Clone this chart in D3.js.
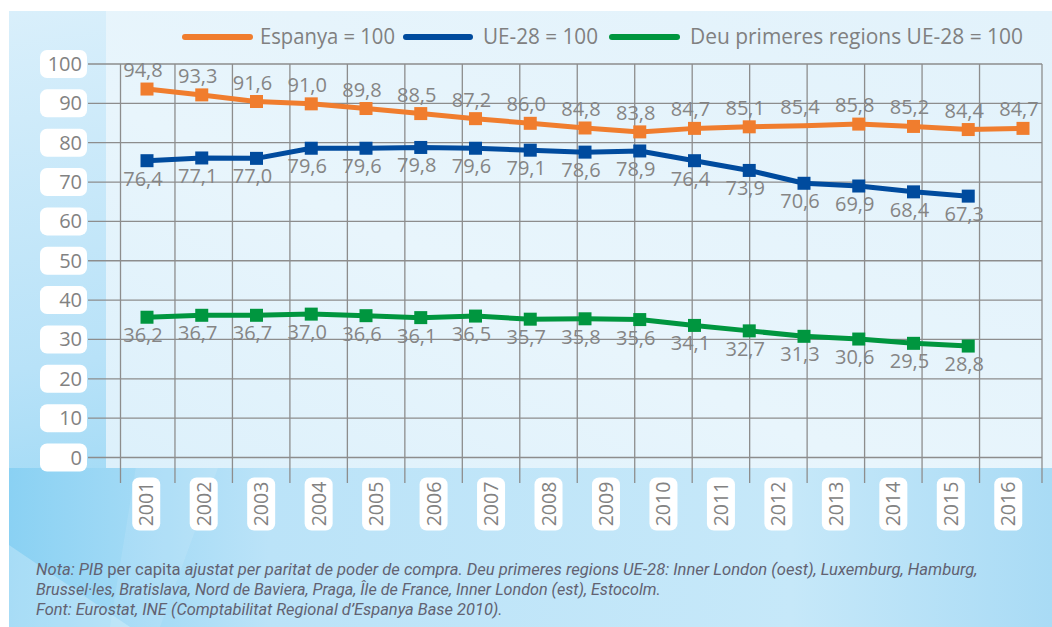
<!DOCTYPE html>
<html>
<head>
<meta charset="utf-8">
<script src="https://cdn.jsdelivr.net/npm/d3@7"></script>
<style>
  html, body { margin: 0; padding: 0; background: #fff; }
  svg { display: block; font-family: "Open Sans", sans-serif; }
</style>
</head>
<body>
<svg id="chart"></svg>
<script>
const width = 1052;
const height = 627;

// data
const years = ["2001", "2002", "2003", "2004", "2005", "2006", "2007", "2008",
  "2009", "2010", "2011", "2012", "2013", "2014", "2015", "2016"];
const yTicks = [0, 10, 20, 30, 40, 50, 60, 70, 80, 90, 100];
const espanya = [94.8, 93.3, 91.6, 91.0, 89.8, 88.5, 87.2, 86.0, 84.8, 83.8,
  84.7, 85.1, 85.4, 85.8, 85.2, 84.4, 84.7];
const ue28 = [76.4, 77.1, 77.0, 79.6, 79.6, 79.8, 79.6, 79.1, 78.6, 78.9,
  76.4, 73.9, 70.6, 69.9, 68.4, 67.3];
const deuRegions = [36.2, 36.7, 36.7, 37.0, 36.6, 36.1, 36.5, 35.7, 35.8, 35.6,
  34.1, 32.7, 31.3, 30.6, 29.5, 28.8];
const espanyaNoMarker = [12]; // the 85,4 point has no square in the original
const seriesNames = ["Espanya = 100", "UE-28 = 100", "Deu primeres regions UE-28 = 100"];
const seriesColors = ["#f07d2e", "#004b9e", "#00963f"];

const noteLines = [
  [["Nota: PIB ", true], ["per capita ", false],
   ["ajustat per paritat de poder de compra. Deu primeres regions UE-28: Inner London (oest), Luxemburg, Hamburg,", true]],
  [["Brussel·les, Bratislava, Nord de Baviera, Praga, Île de France, Inner London (est), Estocolm.", true]],
  [["Font: Eurostat, INE (Comptabilitat Regional d’Espanya Base 2010).", true]],
];

const svg = d3.select("#chart").attr("width", width).attr("height", height);
const defs = svg.append("defs");

const panelGrad = defs.append("linearGradient").attr("id", "panelGrad")
  .attr("x1", 0).attr("y1", 0).attr("x2", 0.25).attr("y2", 1);
panelGrad.append("stop").attr("offset", "0%").attr("stop-color", "#d9effb");
panelGrad.append("stop").attr("offset", "55%").attr("stop-color", "#b8e2f8");
panelGrad.append("stop").attr("offset", "100%").attr("stop-color", "#8ad2f3");

const bottomGrad = defs.append("linearGradient").attr("id", "bottomGrad")
  .attr("x1", 0).attr("y1", 0).attr("x2", 1).attr("y2", 0);
bottomGrad.append("stop").attr("offset", "0%").attr("stop-color", "#8ad1f3");
bottomGrad.append("stop").attr("offset", "25%").attr("stop-color", "#bbe3f8");
bottomGrad.append("stop").attr("offset", "75%").attr("stop-color", "#c6e8f9");
bottomGrad.append("stop").attr("offset", "100%").attr("stop-color", "#a9dbf5");

const plotGrad = defs.append("linearGradient").attr("id", "plotGrad")
  .attr("x1", 0).attr("y1", 1).attr("x2", 1).attr("y2", 0);
plotGrad.append("stop").attr("offset", "0%").attr("stop-color", "#dcf0fb");
plotGrad.append("stop").attr("offset", "40%").attr("stop-color", "#e8f5fc");
plotGrad.append("stop").attr("offset", "100%").attr("stop-color", "#e2f2fb");

// background panels
svg.append("rect").attr("width", width).attr("height", height).attr("fill", "#fff");
svg.append("rect").attr("x", 9).attr("y", 11).attr("width", width - 9).attr("height", height - 11)
  .attr("fill", "url(#panelGrad)");
svg.append("rect").attr("x", 9).attr("y", 468).attr("width", width - 9).attr("height", height - 468)
  .attr("fill", "url(#bottomGrad)");
svg.append("path").attr("d", "M9,545 L130,627 L9,627 Z").attr("fill", "#fff").attr("opacity", 0.25);
svg.append("path").attr("d", "M150,380 L250,380 L160,627 L110,627 Z").attr("fill", "#fff").attr("opacity", 0.1);
svg.append("rect").attr("x", 106).attr("y", 11).attr("width", width - 106).attr("height", 457)
  .attr("fill", "url(#plotGrad)");

// scales
const xBand = d3.scaleBand().domain(years).range([117.5, 1037]).padding(0);
const xPt = d3.scalePoint().domain(d3.range(espanya.length)).range([147, 1023]);
const yGrid = d3.scaleLinear().domain([0, 100]).range([457.5, 64]);
const y = d3.scaleLinear().domain([0, 100]).range([458.2, 68.8]);
const fmt = (v) => d3.format(".1f")(v).replace(".", ",");

// grid
const grid = svg.append("g").attr("stroke", "#8d8d8d").attr("stroke-width", 1.3);
grid.selectAll("line.h").data(yTicks).join("line").attr("class", "h")
  .attr("x1", 88).attr("x2", 1042)
  .attr("y1", (d) => yGrid(d)).attr("y2", (d) => yGrid(d));
const edges = years.map((d) => xBand(d)).concat([xBand.range()[1]]);
grid.selectAll("line.v").data(edges).join("line").attr("class", "v")
  .attr("x1", (d, i) => (i === 0 ? d + 3 : i === edges.length - 1 ? d + 5 : d))
  .attr("x2", (d, i) => (i === 0 ? d + 3 : i === edges.length - 1 ? d + 5 : d))
  .attr("y1", 64).attr("y2", 483);

// y axis labels in white boxes
const yLab = svg.append("g").selectAll("g").data(yTicks).join("g")
  .attr("transform", (d) => `translate(0,${yGrid(d)})`);
yLab.append("rect").attr("x", 40).attr("y", -14).attr("width", 47).attr("height", 28)
  .attr("rx", 7).attr("fill", "#fff");
yLab.append("text").attr("x", 82).attr("y", 7).attr("text-anchor", "end")
  .attr("font-size", 20).attr("fill", "#828282").text((d) => d);

// x axis labels, rotated, in white boxes
const xLab = svg.append("g").selectAll("g").data(years).join("g")
  .attr("transform", (d) => `translate(${xBand(d) + xBand.bandwidth() / 2},504)`);
xLab.append("rect").attr("x", -14).attr("y", -26.5).attr("width", 28).attr("height", 53)
  .attr("rx", 7).attr("fill", "#fff");
xLab.append("text").attr("transform", "rotate(-90)").attr("text-anchor", "middle")
  .attr("y", 7).attr("font-size", 19.5).attr("fill", "#828282").text((d) => d);

// series
const series = [
  { values: espanya, color: seriesColors[0], below: false, skip: espanyaNoMarker },
  { values: ue28, color: seriesColors[1], below: true, skip: [] },
  { values: deuRegions, color: seriesColors[2], below: true, skip: [] },
];
const line = d3.line().x((d, i) => xPt(i)).y((d) => y(d));

series.forEach((s) => {
  const g = svg.append("g");
  g.append("path").datum(s.values).attr("d", line).attr("fill", "none")
    .attr("stroke", s.color).attr("stroke-width", 5).attr("stroke-linejoin", "round");
  g.selectAll("rect").data(s.values.map((v, i) => ({ v, i })).filter((d) => !s.skip.includes(d.i)))
    .join("rect")
    .attr("x", (d) => xPt(d.i) - 6.5).attr("y", (d) => y(d.v) - 6.5)
    .attr("width", 13).attr("height", 13).attr("fill", s.color);
  g.selectAll("text").data(s.values).join("text")
    .attr("x", (d, i) => xPt(i) - 4)
    .attr("y", (d) => y(d) + (s.below ? 25 : -12))
    .attr("text-anchor", "middle").attr("font-size", 20).attr("fill", "#858585")
    .text(fmt);
});

// legend
const legendItems = [
  { x0: 185, x1: 250, tx: 260, tl: 135 },
  { x0: 406, x1: 470, tx: 483, tl: 115 },
  { x0: 612, x1: 677, tx: 690, tl: 333 },
];
const leg = svg.append("g").selectAll("g").data(legendItems).join("g");
leg.append("line").attr("x1", (d) => d.x0).attr("x2", (d) => d.x1)
  .attr("y1", 37).attr("y2", 37)
  .attr("stroke", (d, i) => seriesColors[i]).attr("stroke-width", 6).attr("stroke-linecap", "round");
leg.append("text").attr("x", (d) => d.tx).attr("y", 44)
  .attr("font-size", 22.5).attr("fill", "#808080")
  .attr("textLength", (d) => d.tl).attr("lengthAdjust", "spacingAndGlyphs")
  .text((d, i) => seriesNames[i]);

// footnote: one text per segment, each line squeezed to the width of the original
const noteLengths = [942, 625, 467];
const noteG = svg.append("g").selectAll("g").data(noteLines).join("g")
  .attr("font-family", "Roboto, sans-serif").attr("font-size", 17).attr("fill", "#626271");
noteG.each(function (segs, i) {
  const g = d3.select(this);
  let cx = 0;
  segs.forEach(([txt, it]) => {
    const t = g.append("text").attr("x", cx).attr("y", 0)
      .attr("font-style", it ? "italic" : "normal")
      .attr("xml:space", "preserve").style("white-space", "pre").text(txt);
    cx += t.node().getComputedTextLength();
  });
  g.attr("transform", `translate(36,${575 + i * 20}) scale(${noteLengths[i] / cx},1)`);
});
</script>
</body>
</html>
